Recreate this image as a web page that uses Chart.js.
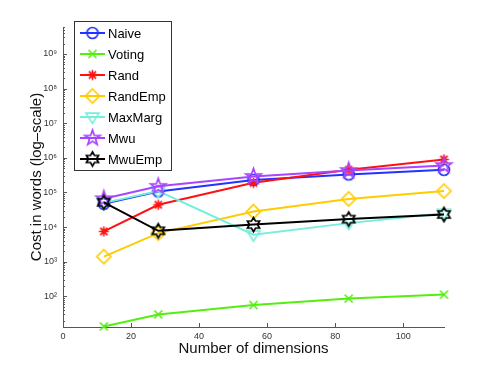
<!DOCTYPE html>
<html>
<head>
<meta charset="utf-8">
<script src="https://cdn.jsdelivr.net/npm/chart.js@4.4.0/dist/chart.umd.min.js"></script>
<style>
  body { margin: 0; background: #fff; }
  #wrap { width: 491px; height: 369px; }
</style>
</head>
<body>
<div id="wrap"><canvas id="chart"></canvas></div>
<script>
const dims = [12, 28, 56, 84, 112]
const xTicks = [0, 20, 40, 60, 80, 100]
const seriesNames = ['Naive', 'Voting', 'Rand', 'RandEmp', 'MaxMarg', 'Mwu', 'MwuEmp']
const naive = [4.7e4, 1.07e5, 2.3e5, 3.3e5, 4.5e5]
const voting = [13.5, 30, 56, 86, 112]
const rand = [7.5e3, 4.4e4, 1.9e5, 4.5e5, 9.0e5]
const randEmp = [1.4e3, 6.7e3, 2.8e4, 6.5e4, 1.1e5]
const maxMarg = [5.0e4, 1.1e5, 6.0e3, 1.3e4, 2.5e4]
const mwu = [6.6e4, 1.5e5, 2.9e5, 4.3e5, 6.0e5]
const mwuEmp = [5.2e4, 7.8e3, 1.18e4, 1.7e4, 2.3e4]
const yMajorExps = [2, 3, 4, 5, 6, 7, 8, 9]

const colors = ['#2233ff', '#55ee11', '#ff1111', '#ffcc00', '#77eedd', '#aa44ff', '#000000']
const shapes = ['circle', 'x', 'asterisk', 'diamond', 'triangleDown', 'pentagram', 'hexagram']
const sizes = [5.5, 4, 5, 7, 6.5, 8, 7]
const values = [naive, voting, rand, randEmp, maxMarg, mwu, mwuEmp]

const FONT = '"Liberation Sans", Arial, "DejaVu Sans", sans-serif'
const AXIS = '#555555'

// small canvases used as point styles (matlab-like open markers)
function makeMarker(shape, color, r) {
  const s = Math.ceil(2 * r + 5)
  const c = document.createElement('canvas')
  c.width = s
  c.height = s
  const ctx = c.getContext('2d')
  ctx.translate(s / 2, s / 2)
  ctx.strokeStyle = color
  ctx.lineWidth = 1.7
  ctx.lineJoin = 'miter'
  ctx.beginPath()
  if (shape === 'circle') {
    ctx.arc(0, 0, r, 0, Math.PI * 2)
  } else if (shape === 'x') {
    ctx.moveTo(-r, -r); ctx.lineTo(r, r)
    ctx.moveTo(r, -r); ctx.lineTo(-r, r)
  } else if (shape === 'asterisk') {
    for (let i = 0; i < 4; i++) {
      const a = i * Math.PI / 4
      ctx.moveTo(-r * Math.cos(a), -r * Math.sin(a))
      ctx.lineTo(r * Math.cos(a), r * Math.sin(a))
    }
  } else if (shape === 'diamond') {
    ctx.moveTo(0, -r); ctx.lineTo(r, 0); ctx.lineTo(0, r); ctx.lineTo(-r, 0); ctx.closePath()
  } else if (shape === 'triangleDown') {
    ctx.moveTo(-r, -r * 0.6); ctx.lineTo(r, -r * 0.6); ctx.lineTo(0, r); ctx.closePath()
  } else if (shape === 'pentagram' || shape === 'hexagram') {
    const n = shape === 'pentagram' ? 5 : 6
    const inner = shape === 'pentagram' ? r * 0.4 : r * 0.577
    for (let i = 0; i < n * 2; i++) {
      const a = -Math.PI / 2 + i * Math.PI / n
      const rr = i % 2 === 0 ? r : inner
      const px = rr * Math.cos(a), py = rr * Math.sin(a)
      if (i === 0) ctx.moveTo(px, py); else ctx.lineTo(px, py)
    }
    ctx.closePath()
  }
  ctx.stroke()
  return c
}

const markers = shapes.map((s, i) => makeMarker(s, colors[i], sizes[i]))

const datasets = seriesNames.map((name, i) => ({
  label: name,
  data: dims.map((d, j) => ({ x: d, y: values[i][j] })),
  borderColor: colors[i],
  backgroundColor: colors[i],
  borderWidth: 2,
  pointStyle: markers[i],
  pointRadius: 5,
  pointHoverRadius: 5,
  tension: 0,
  clip: false,
  order: seriesNames.length - i
}))

function sup(n) {
  const map = { '0': '⁰', '1': '¹', '2': '²', '3': '³', '4': '⁴', '5': '⁵', '6': '⁶', '7': '⁷', '8': '⁸', '9': '⁹' }
  return String(n).split('').map(ch => map[ch]).join('')
}

// inward tick marks and legend box
const decorations = {
  id: 'decorations',
  afterDraw(chart) {
    const { ctx, chartArea } = chart
    const xs = chart.scales.x, ys = chart.scales.y
    ctx.save()
    ctx.strokeStyle = AXIS
    ctx.lineWidth = 1
    ctx.beginPath()
    xTicks.forEach(v => {
      const px = Math.round(xs.getPixelForValue(v)) + 0.5
      ctx.moveTo(px, chartArea.bottom)
      ctx.lineTo(px, chartArea.bottom - 4)
    })
    ys.ticks.forEach(t => {
      const py = Math.round(ys.getPixelForValue(t.value)) + 0.5
      const major = Math.abs(Math.log10(t.value) - Math.round(Math.log10(t.value))) < 1e-9
      ctx.moveTo(chartArea.left, py)
      ctx.lineTo(chartArea.left + (major ? 4 : 2), py)
    })
    ctx.stroke()

    // legend
    const bx = 74.5, by = 21.5, bw = 97, bh = 149
    ctx.fillStyle = '#fff'
    ctx.fillRect(bx, by, bw, bh)
    ctx.strokeStyle = '#333'
    ctx.strokeRect(bx, by, bw, bh)
    ctx.font = '13px ' + FONT
    ctx.textBaseline = 'middle'
    seriesNames.forEach((name, i) => {
      const cy = 33 + i * 21
      ctx.strokeStyle = colors[i]
      ctx.lineWidth = 2
      ctx.beginPath()
      ctx.moveTo(80, cy)
      ctx.lineTo(105, cy)
      ctx.stroke()
      const m = markers[i]
      ctx.drawImage(m, 92.5 - m.width / 2, cy - m.height / 2)
      ctx.fillStyle = '#000'
      ctx.fillText(name, 108, cy + 1)
    })
    ctx.restore()
  }
}

new Chart(document.getElementById('chart').getContext('2d'), {
  type: 'line',
  data: { datasets },
  options: {
    responsive: true,
    maintainAspectRatio: false,
    animation: false,
    events: [],
    layout: { padding: { top: 27, right: 47, left: 0, bottom: 0 } },
    plugins: {
      legend: { display: false },
      tooltip: { enabled: false }
    },
    scales: {
      x: {
        type: 'linear',
        min: 0,
        max: 112,
        grid: { display: false, drawTicks: false },
        border: { display: true, color: AXIS, width: 1 },
        afterBuildTicks: scale => { scale.ticks = xTicks.map(v => ({ value: v })) },
        afterFit: scale => { scale.height = 42 },
        ticks: {
          autoSkip: false,
          maxRotation: 0,
          padding: 4,
          color: '#333',
          font: { family: FONT, size: 9 }
        },
        title: {
          display: true,
          text: 'Number of dimensions',
          color: '#111',
          font: { family: FONT, size: 15 },
          padding: { top: 0, bottom: 11 }
        }
      },
      y: {
        type: 'logarithmic',
        min: 13,
        max: 6e9,
        grid: { display: false, drawTicks: false },
        border: { display: true, color: AXIS, width: 1 },
        afterBuildTicks: scale => {
          const ticks = []
          for (let e = 1; e <= 9; e++) {
            for (let k = 1; k <= 9; k++) {
              const v = k * Math.pow(10, e)
              if (v >= scale.min && v <= scale.max) ticks.push({ value: v })
            }
          }
          scale.ticks = ticks
        },
        afterFit: scale => { scale.width = 63 },
        ticks: {
          autoSkip: false,
          padding: 6,
          color: '#333',
          font: { family: FONT, size: 9 },
          callback: value => {
            const e = Math.round(Math.log10(value))
            if (Math.abs(Math.log10(value) - e) < 1e-9 && yMajorExps.includes(e)) return '10' + sup(e)
            return ''
          }
        },
        title: {
          display: true,
          text: 'Cost in words (log\u2013scale)',
          color: '#111',
          font: { family: FONT, size: 15 },
          padding: { top: 28, bottom: 0 }
        }
      }
    }
  },
  plugins: [decorations]
})
</script>
</body>
</html>
